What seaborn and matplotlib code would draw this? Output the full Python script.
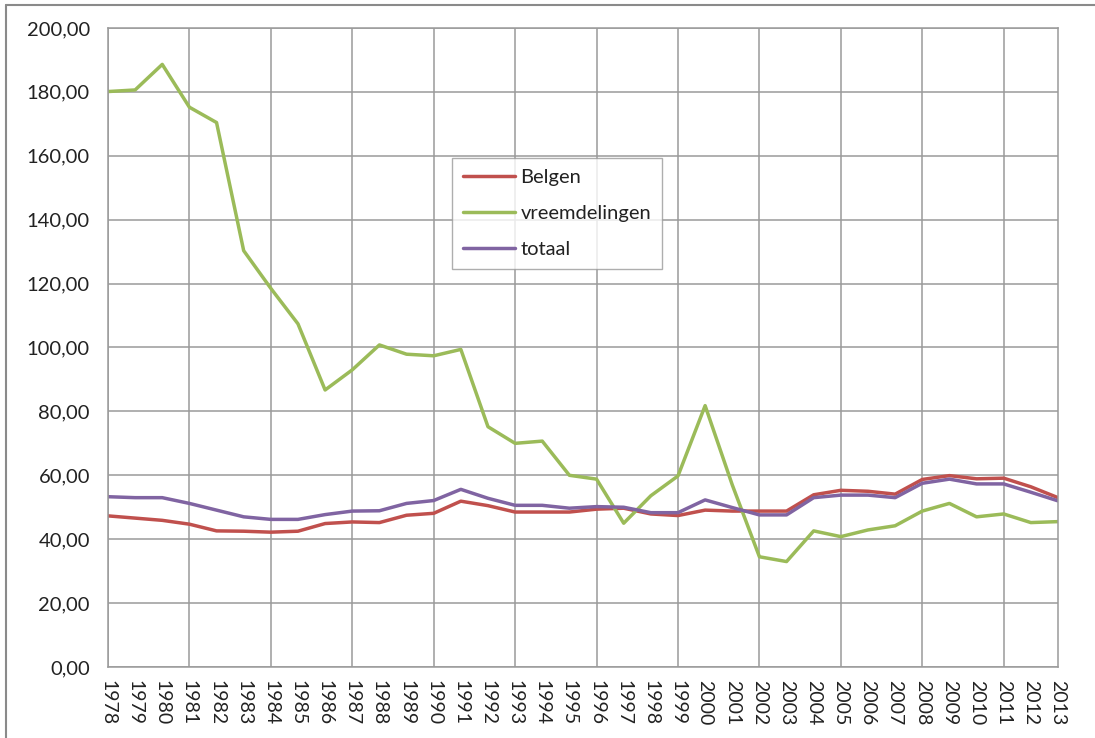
import numpy as np
import pandas as pd
import seaborn as sns
import matplotlib.pyplot as plt
from matplotlib.lines import Line2D
from matplotlib.ticker import FuncFormatter, MultipleLocator

years = list(range(1978, 2014))

belgen = [47.3, 46.6, 45.9, 44.7, 42.6, 42.5, 42.2, 42.5, 44.9, 45.4,
          45.2, 47.5, 48.1, 51.9, 50.5, 48.5, 48.5, 48.5, 49.4, 49.7,
          47.9, 47.4, 49.1, 48.8, 48.8, 48.8, 53.9, 55.3, 55.0, 54.1,
          58.7, 59.9, 58.9, 59.1, 56.4, 53.0]

vreemdelingen = [180.1, 180.6, 188.6, 175.2, 170.4, 130.3, 118.5, 107.4, 86.7, 93.0,
                 100.8, 97.9, 97.4, 99.4, 75.2, 70.0, 70.7, 60.0, 58.8, 45.0,
                 53.6, 59.8, 81.8, 57.0, 34.5, 33.0, 42.6, 40.8, 42.9, 44.2,
                 48.8, 51.2, 47.0, 47.9, 45.2, 45.5]

totaal = [53.3, 53.0, 53.0, 51.2, 49.1, 47.0, 46.2, 46.2, 47.7, 48.8,
          48.9, 51.2, 52.1, 55.6, 52.8, 50.6, 50.6, 49.7, 50.2, 50.0,
          48.3, 48.3, 52.3, 49.9, 47.6, 47.6, 53.0, 53.8, 53.8, 53.0,
          57.5, 58.8, 57.3, 57.3, 54.7, 52.0]

series_names = ["Belgen", "vreemdelingen", "totaal"]
colors = ["#C0504D", "#9BBB59", "#8064A2"]

df = pd.DataFrame({"jaar": years, "Belgen": belgen,
                   "vreemdelingen": vreemdelingen, "totaal": totaal})
long_df = df.melt(id_vars="jaar", var_name="reeks", value_name="waarde")

sns.set_style("white")
plt.rcParams["font.family"] = ["Lato", "DejaVu Sans"]

fig = plt.figure(figsize=(10.95, 7.38), dpi=100)
ax = fig.add_axes([0.0986, 0.0962, 0.8676, 0.8659])

sns.lineplot(data=long_df, x="jaar", y="waarde", hue="reeks",
             hue_order=series_names, palette=colors, linewidth=2.5, ax=ax)

ax.set_xlim(1978, 2013)
ax.set_ylim(0, 200)
ax.yaxis.set_major_locator(MultipleLocator(20))
ax.yaxis.set_major_formatter(FuncFormatter(lambda v, p: f"{v:.2f}".replace(".", ",")))

# gridlines every 3 years, labels on every year
ax.xaxis.remove_overlapping_locs = False
ax.set_xticks(list(range(1978, 2014, 3)))
ax.set_xticklabels([])
ax.set_xticks(years, minor=True)
ax.set_xticklabels([str(y) for y in years], minor=True, rotation=270)
ax.tick_params(axis="x", which="minor", length=0, pad=9, labelsize=14, colors="#222222")
ax.tick_params(axis="x", which="major", length=6, color="#999999", direction="out")
ax.tick_params(axis="y", length=6, color="#999999", labelsize=14.5, labelcolor="#222222", pad=7)

ax.grid(True, which="major", color="#9a9a9a", linewidth=1.1)
for s in ax.spines.values():
    s.set_color("#9a9a9a")
    s.set_linewidth(1.1)

ax.set_xlabel("")
ax.set_ylabel("")

leg = ax.legend(loc="upper left", bbox_to_anchor=(0.362, 0.797), borderaxespad=0,
                fontsize=14.5, frameon=True, fancybox=False, handlelength=2.6,
                labelspacing=0.95, handletextpad=0.25, borderpad=0.55)
leg.get_frame().set_edgecolor("#9a9a9a")
leg.get_frame().set_linewidth(1.0)
for t in leg.get_texts():
    t.set_color("#222222")

# outer chart border (top and left edge visible)
fig.add_artist(Line2D([6 / 1095, 6 / 1095], [0, 1 - 5 / 738], transform=fig.transFigure,
                      color="#8a8a8a", linewidth=1.5))
fig.add_artist(Line2D([6 / 1095, 1], [1 - 5 / 738, 1 - 5 / 738], transform=fig.transFigure,
                      color="#8a8a8a", linewidth=1.5))

fig.savefig("out.png", dpi=100)
